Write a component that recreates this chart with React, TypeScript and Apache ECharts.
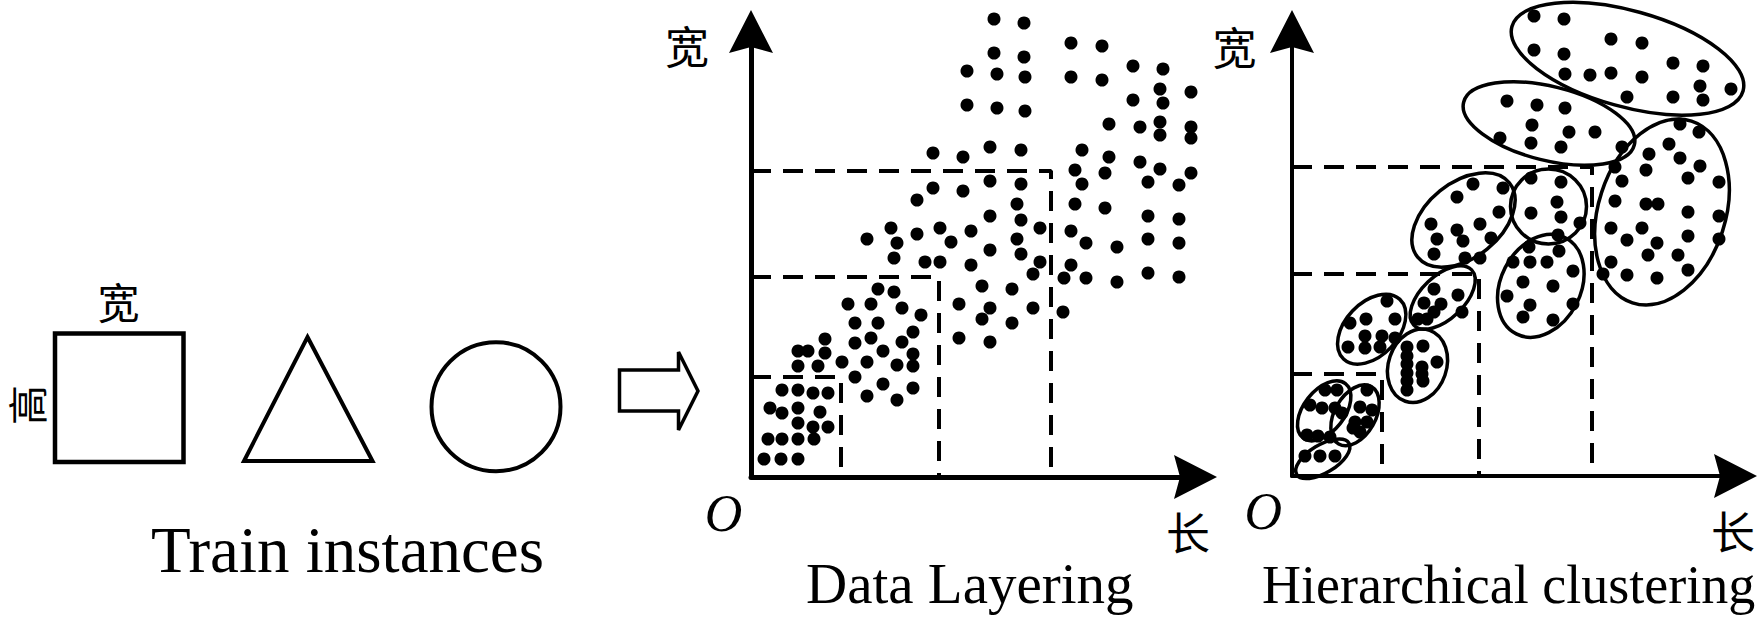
import React, { useEffect, useRef } from "react";
import * as echarts from "echarts";

// ---------- Data (pixel-like units, origin at each plot's axes corner) ----------
const captions = ["Train instances", "Data Layering", "Hierarchical clustering"];
const axisWidthLabel = "宽";
const axisLengthLabel = "长";
const shapeHeightLabel = "高";
const originLabel = "O";

// Data Layering plot: thresholds of the dashed layering lines
const layerSplitX = [92, 190, 302];
const layerSplitY = [101, 201, 307];

// Data Layering plot: instances
const layerDots: number[][] = [
  [245, 459], [275, 455], [322, 435], [353, 432], [245, 425], [275, 421], [218, 407], [248, 404],
  [276, 401], [322, 401], [353, 398], [218, 373], [248, 370], [276, 367],
  [241, 331], [272, 328], [184, 325], [214, 321], [333, 328], [326, 308], [356, 305], [333, 294],
  [241, 297], [272, 294], [184, 290], [214, 287], [168, 278], [268, 274], [326, 274], [356, 270],
  [241, 262], [272, 258], [291, 250], [322, 247], [337, 235], [142, 250], [168, 244], [191, 250],
  [222, 247], [118, 239], [148, 235], [202, 236], [268, 239], [241, 228], [272, 224],
  [384, 412], [414, 409], [411, 389], [384, 378], [414, 375], [442, 386], [360, 354], [391, 351],
  [411, 356], [411, 343], [442, 351], [442, 340], [360, 321], [391, 316], [411, 309], [442, 305],
  [399, 296], [430, 293], [399, 262], [430, 259], [368, 231], [399, 239], [430, 235], [368, 196],
  [399, 205], [430, 201],
  [291, 216], [322, 213], [315, 200], [337, 200], [284, 204], [145, 220], [176, 216], [191, 216],
  [222, 213], [233, 192], [263, 189], [210, 174], [241, 170], [233, 159], [263, 155], [284, 170],
  [314, 166], [210, 140], [241, 136],
  [129, 189], [145, 186], [99, 174], [122, 174], [153, 170], [172, 163], [106, 155], [129, 155],
  [164, 146], [76, 139], [122, 140], [106, 135], [153, 136], [49, 127], [59, 127], [76, 125],
  [134, 127], [164, 124], [49, 112], [69, 112], [93, 116], [118, 116], [148, 113], [164, 112],
  [106, 101], [134, 94], [164, 90], [118, 82], [148, 78], [33, 88], [49, 88], [64, 85], [79, 85],
  [21, 70], [33, 65], [49, 70], [71, 66], [49, 55], [64, 51], [79, 51], [19, 39], [33, 39],
  [49, 39], [65, 39], [15, 19], [32, 19], [49, 19],
];

// Hierarchical clustering plot: thresholds
const clusterSplitX = [90, 187, 300];
const clusterSplitY = [102, 202, 309];

// Hierarchical clustering plot: instances
const clusterDots: number[][] = [
  // top ellipse
  [242, 460], [272, 457], [319, 437], [350, 433], [242, 426], [272, 422], [273, 402], [298, 401],
  [319, 403], [350, 399], [381, 413], [411, 410], [408, 390], [439, 387], [335, 379], [381, 379],
  [411, 376],
  // second ellipse
  [215, 375], [245, 371], [273, 368], [240, 351], [277, 344], [303, 344], [208, 338], [239, 333],
  [269, 329], [330, 329],
  // large right ellipse
  [388, 352], [407, 344], [377, 332], [357, 322], [388, 318], [408, 310], [354, 306], [323, 309],
  [330, 295], [396, 298], [427, 294], [323, 275], [354, 272], [366, 272], [396, 264], [427, 260],
  [319, 248], [350, 248], [396, 240], [427, 237], [335, 236], [365, 233], [319, 214], [335, 201],
  [365, 198], [396, 206], [356, 221], [386, 221], [311, 202],
  // middle-left ellipse
  [181, 292], [165, 279], [211, 288], [207, 264], [188, 252], [139, 252], [165, 246], [145, 237],
  [171, 235], [199, 238], [142, 222], [173, 218], [188, 218],
  // round ellipse
  [239, 298], [269, 294], [265, 274], [239, 263], [269, 259], [288, 253], [266, 241],
  // ellipse below it
  [237, 229], [267, 225], [221, 214], [238, 214], [255, 214], [281, 205], [231, 194], [261, 190],
  [215, 180], [238, 171], [281, 172], [231, 159], [261, 156],
  // small tilted ellipse
  [142, 187], [166, 181], [132, 173], [149, 172], [142, 164], [170, 164], [126, 157], [135, 157],
  // left ellipse
  [95, 175], [74, 157], [103, 157], [58, 153], [73, 140], [90, 140], [103, 138], [56, 129],
  [73, 128], [88, 129],
  // vertical ellipse
  [115, 129], [115, 120], [115, 112], [115, 103], [115, 95], [115, 86], [131, 130], [145, 114],
  [130, 109], [130, 102], [131, 95],
  // bottom-left ellipses
  [18, 71], [30, 68], [43, 68], [33, 86], [45, 86], [15, 41], [26, 40], [38, 39],
  [75, 86], [68, 69], [80, 66], [63, 54], [75, 54], [61, 48], [68, 44], [50, 63],
  [13, 20], [28, 20], [43, 20],
];

// cluster outlines: [centerX, centerY, semiAxisA, semiAxisB, angleDeg (counter-clockwise)]
const clusterEllipses: number[][] = [
  [335.5, 417.3, 120, 48, -15.6],
  [257, 352.5, 88, 37, -14],
  [370, 264, 95.5, 63.5, 72],
  [171.5, 256, 59, 37.5, 39],
  [256.5, 269.5, 38, 37.5, 0],
  [248.8, 190.2, 54, 40, 63],
  [150.7, 178.5, 40, 21.5, 43.7],
  [79.7, 146.8, 41, 26.5, 46.6],
  [125.5, 110.2, 37.5, 29, 71],
  [32.2, 65.2, 34.5, 20.5, 52],
  [63, 60.7, 33, 20.5, 60.3],
  [30.8, 17.2, 30.5, 14, 31],
];

const ARROW = "path://M22,0 L44,43 L22,37 L0,43 Z";
const SERIF = '"Liberation Serif", "Times New Roman", serif';
const CJK = '"Noto Sans CJK SC", sans-serif';

function makeAxis(gridIndex: number, min: number, max: number, lw: number) {
  return {
    type: "value",
    gridIndex,
    min,
    max,
    axisLine: {
      show: true,
      onZero: false,
      lineStyle: { color: "#000", width: lw },
      symbol: ["none", ARROW],
      symbolSize: [44, 43],
    },
    axisTick: { show: false },
    axisLabel: { show: false },
    splitLine: { show: false },
  };
}

function layerLines(idx: number, xs: number[], ys: number[], x0: number, y0: number) {
  return xs.map((x, i) => ({
    type: "line",
    xAxisIndex: idx,
    yAxisIndex: idx,
    data: [
      [x0, ys[i]],
      [x, ys[i]],
      [x, y0],
    ],
    symbol: "none",
    silent: true,
    z: 1,
    clip: false,
    lineStyle: { color: "#000", width: 4, type: [20, 12] },
  }));
}

function txt(text: string, x: number, y: number, size: number, family: string, align = "center", extra: any = {}) {
  return {
    type: "text",
    x,
    y,
    ...extra,
    style: {
      text,
      x: 0,
      y: 0,
      font: `${extra.italic ? "italic " : ""}${size}px ${family}`,
      lineHeight: size,
      fill: "#000",
      textAlign: align,
      textVerticalAlign: "middle",
    },
  };
}

export default function App() {
  const ref = useRef<HTMLDivElement>(null);
  useEffect(() => {
    if (!ref.current) return;
    const chart = echarts.init(ref.current, undefined, { renderer: "svg" });
    const option: any = {
      animation: false,
      backgroundColor: "#fff",
      grid: [
        { left: 751, top: 31.5, width: 444.5, height: 445.5 },
        { left: 1292, top: 31.5, width: 443.5, height: 444.5 },
      ],
      xAxis: [makeAxis(0, 2, 446.5, 5), makeAxis(1, 0, 443.5, 4)],
      yAxis: [makeAxis(0, 1, 446.5, 5), makeAxis(1, 0, 444.5, 4)],
      series: [
        ...layerLines(0, layerSplitX, layerSplitY, 2, 1),
        ...layerLines(1, clusterSplitX, clusterSplitY, 0, 0),
        {
          type: "scatter",
          xAxisIndex: 0,
          yAxisIndex: 0,
          data: layerDots,
          symbolSize: 13,
          itemStyle: { color: "#000", opacity: 1 },
          clip: false,
          silent: true,
          z: 3,
        },
        {
          type: "scatter",
          xAxisIndex: 1,
          yAxisIndex: 1,
          data: clusterDots,
          symbolSize: 13,
          itemStyle: { color: "#000", opacity: 1 },
          clip: false,
          silent: true,
          z: 3,
        },
        {
          type: "custom",
          xAxisIndex: 1,
          yAxisIndex: 1,
          data: clusterEllipses,
          clip: false,
          silent: true,
          z: 4,
          renderItem: (_p: any, api: any) => {
            const c = api.coord([api.value(0), api.value(1)]);
            const s = api.size([1, 1]);
            return {
              type: "ellipse",
              x: c[0],
              y: c[1],
              rotation: (api.value(4) * Math.PI) / 180,
              shape: { cx: 0, cy: 0, rx: api.value(2) * s[0], ry: api.value(3) * s[1] },
              style: { fill: "none", stroke: "#000", lineWidth: 3.5 },
            };
          },
        },
      ],
      graphic: [
        {
          type: "rect",
          shape: { x: 55, y: 333.5, width: 128.5, height: 128.5 },
          style: { fill: "none", stroke: "#000", lineWidth: 4.5 },
        },
        {
          type: "polygon",
          shape: { points: [[307.5, 337], [372.5, 461], [244, 461]] },
          style: { fill: "none", stroke: "#000", lineWidth: 4 },
        },
        {
          type: "ellipse",
          shape: { cx: 496, cy: 406.7, rx: 64.5, ry: 64.5 },
          style: { fill: "none", stroke: "#000", lineWidth: 4 },
        },
        {
          type: "polygon",
          shape: {
            points: [[619.5, 370], [678.5, 370], [678.5, 352], [698, 391], [678.5, 430], [678.5, 411], [619.5, 411]],
          },
          style: { fill: "none", stroke: "#000", lineWidth: 3.5 },
        },
        txt(axisWidthLabel, 118.4, 300.5, 42, CJK),
        txt(shapeHeightLabel, 26, 405, 40, CJK, "center", { rotation: Math.PI / 2 }),
        txt(captions[0], 151, 550, 65, SERIF, "left"),
        txt(captions[1], 806, 583.5, 57, SERIF, "left"),
        txt(captions[2], 1262, 584.8, 54, SERIF, "left"),
        txt(axisWidthLabel, 687, 44.5, 44, CJK),
        txt(axisWidthLabel, 1234.4, 46.3, 44, CJK),
        txt(axisLengthLabel, 1188, 531, 44, CJK),
        txt(axisLengthLabel, 1733, 529.5, 44, CJK),
        txt(originLabel, 723.6, 513.3, 52, SERIF, "center", { italic: true }),
        txt(originLabel, 1263.3, 511.7, 52, SERIF, "center", { italic: true }),
      ],
    };
    chart.setOption(option);
    return () => chart.dispose();
  }, []);
  return (
    <div
      ref={ref}
      style={{ position: "fixed", left: 0, top: 0, width: 1759, height: 623, background: "#fff" }}
    />
  );
}
